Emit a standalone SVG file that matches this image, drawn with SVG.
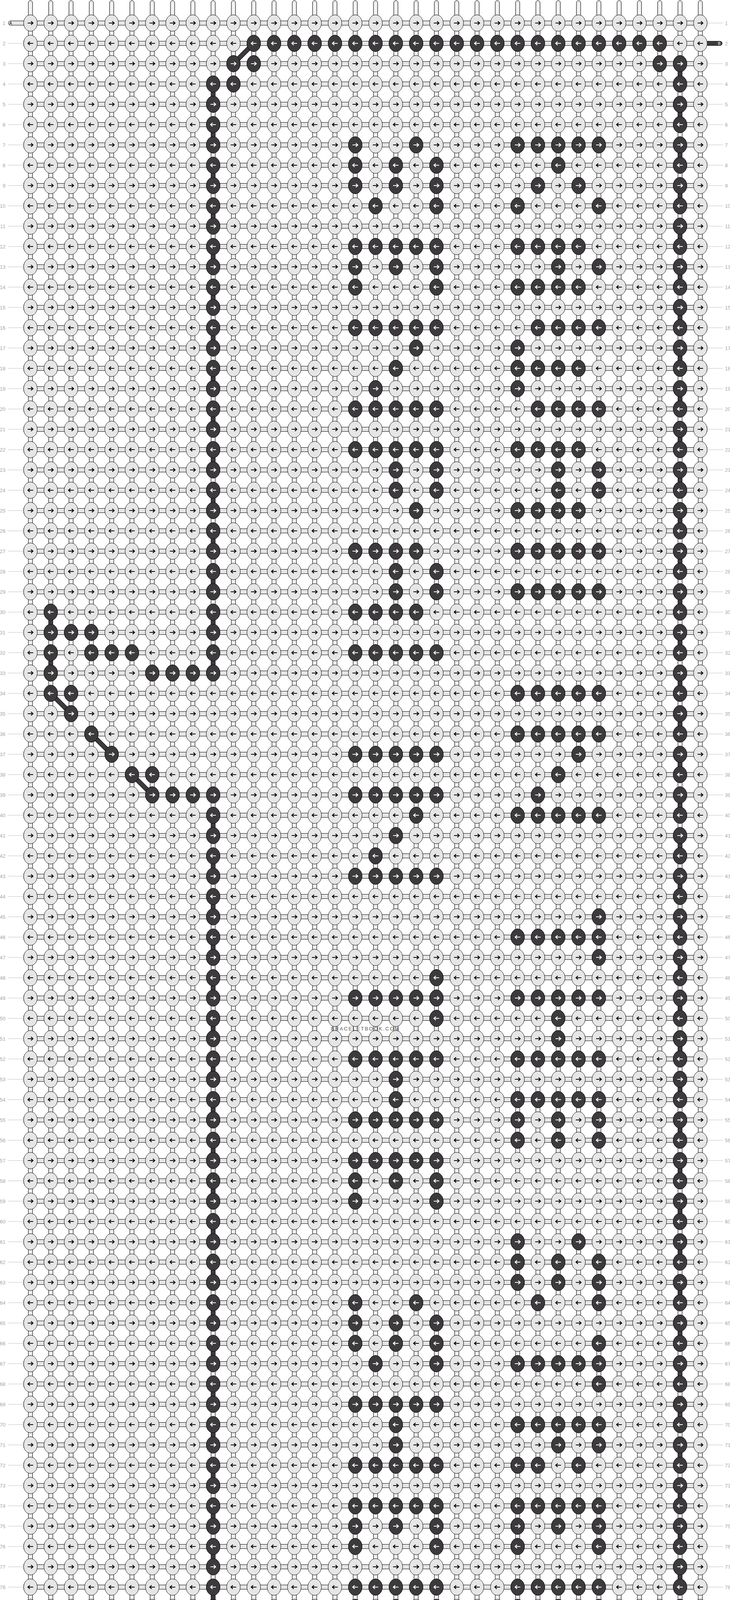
<svg xmlns="http://www.w3.org/2000/svg" width="1870" height="5213" viewBox="0 0 1870 5213">
<style>
.kl{fill:#e6e6e6;stroke:#000;stroke-width:1}
.kd{fill:#3d3a3d;stroke:#000;stroke-width:1}
.hb{fill:#e6e6e6;stroke:#000;stroke-width:1}
.vc{fill:#e6e6e6;stroke:#000;stroke-width:1}
.vs{fill:#fbfbfb}
.ab{fill:none;stroke:#000;stroke-width:2.2}
.aw{fill:none;stroke:#fff;stroke-width:2.2}
.vdr{fill:#3d3a3d;stroke:#000;stroke-width:1}
.dgo{stroke:#000;stroke-width:12}
.dgi{stroke:#3d3a3d;stroke-width:10}
.leadL{fill:#e6e6e6;stroke:#000;stroke-width:1}
.leadD{fill:#3d3a3d;stroke:#000;stroke-width:1}
.num{font-family:"Liberation Sans",Arial,sans-serif;font-size:13px;fill:#a6a6a6}
.tag{font-family:"Liberation Sans",Arial,sans-serif;font-size:10px}
.wm{font-family:"Liberation Sans",Arial,sans-serif;font-size:13px;fill:#5a5a5a;letter-spacing:2.6px}
</style>
<defs>
<pattern id="grid" patternUnits="userSpaceOnUse" x="52" y="33" width="52" height="104">
<rect class="vc" x="20.5" y="-11" width="11" height="20"/>
<rect class="vc" x="20.5" y="43" width="11" height="18"/>
<rect class="vc" x="20.5" y="95" width="11" height="20"/>
<rect class="vs" x="24.5" y="-11" width="3" height="20"/>
<rect class="vs" x="24.5" y="43" width="3" height="18"/>
<rect class="vs" x="24.5" y="95" width="3" height="20"/>
<rect class="hb" x="35" y="20.5" width="40" height="11"/>
<rect class="hb" x="-23" y="20.5" width="40" height="11"/>
<rect class="hb" x="35" y="72.5" width="40" height="11"/>
<rect class="hb" x="-23" y="72.5" width="40" height="11"/>
<ellipse class="kl" cx="26" cy="26" rx="17.5" ry="21"/>
<ellipse class="kl" cx="26" cy="78" rx="17.5" ry="21"/>
<path class="ab" d="M19 26H32.5M27.5 21.5L32.5 26L27.5 30.5"/>
<path class="ab" d="M33 78H19.5M24.5 73.5L19.5 78L24.5 82.5"/>
</pattern>
<pattern id="lead" patternUnits="userSpaceOnUse" x="0" y="33" width="1870" height="52">
<rect x="0" y="25.5" width="1870" height="1" fill="#c0c0c0"/>
</pattern>
<g id="th"><rect class="vc" x="-5.5" y="0" width="11" height="44" rx="5.5"/><rect class="vs" x="-1.5" y="6" width="3" height="34"/></g>
<g id="dR"><ellipse class="kd" rx="17.5" ry="21"/><path class="aw" d="M-7 0H6.5M1.5-4.5L6.5 0L1.5 4.5"/></g>
<g id="dL"><ellipse class="kd" rx="17.5" ry="21"/><path class="aw" d="M7 0H-6.5M-1.5-4.5L-6.5 0L-1.5 4.5"/></g>
<g id="dR4"><use href="#dR"/><use href="#dR" x="52"/><use href="#dR" x="104"/><use href="#dR" x="156"/></g>
<g id="dL4"><use href="#dL"/><use href="#dL" x="52"/><use href="#dL" x="104"/><use href="#dL" x="156"/></g>
<g id="dR5"><use href="#dR4"/><use href="#dR" x="208"/></g>
<g id="dL5"><use href="#dL4"/><use href="#dL" x="208"/></g>
<g id="dL21"><use href="#dL5"/><use href="#dL5" x="260"/><use href="#dL5" x="520"/><use href="#dL5" x="780"/><use href="#dL" x="1040"/></g>
<rect id="vd" class="vdr" x="-5.5" y="15" width="11" height="22"/>
</defs>
<rect width="1870" height="5213" fill="#fff"/>

<g id="threads-top" transform="translate(0,1.5)">
<use href="#th" x="78"/><use href="#th" x="130"/><use href="#th" x="182"/><use href="#th" x="234"/><use href="#th" x="286"/><use href="#th" x="338"/><use href="#th" x="390"/><use href="#th" x="442"/><use href="#th" x="494"/><use href="#th" x="546"/><use href="#th" x="598"/><use href="#th" x="650"/><use href="#th" x="702"/><use href="#th" x="754"/><use href="#th" x="806"/><use href="#th" x="858"/><use href="#th" x="910"/><use href="#th" x="962"/><use href="#th" x="1014"/><use href="#th" x="1066"/><use href="#th" x="1118"/><use href="#th" x="1170"/><use href="#th" x="1222"/><use href="#th" x="1274"/><use href="#th" x="1326"/><use href="#th" x="1378"/><use href="#th" x="1430"/><use href="#th" x="1482"/><use href="#th" x="1534"/><use href="#th" x="1586"/><use href="#th" x="1638"/><use href="#th" x="1690"/><use href="#th" x="1742"/><use href="#th" x="1794"/>
</g>
<g id="threads-bottom" transform="translate(0,5167.5)">
<use href="#th" x="78"/><use href="#th" x="130"/><use href="#th" x="182"/><use href="#th" x="234"/><use href="#th" x="286"/><use href="#th" x="338"/><use href="#th" x="390"/><use href="#th" x="442"/><use href="#th" x="494"/><use href="#th" x="546"/><use href="#th" x="598"/><use href="#th" x="650"/><use href="#th" x="702"/><use href="#th" x="754"/><use href="#th" x="806"/><use href="#th" x="858"/><use href="#th" x="910"/><use href="#th" x="962"/><use href="#th" x="1014"/><use href="#th" x="1066"/><use href="#th" x="1118"/><use href="#th" x="1170"/><use href="#th" x="1222"/><use href="#th" x="1274"/><use href="#th" x="1326"/><use href="#th" x="1378"/><use href="#th" x="1430"/><use href="#th" x="1482"/><use href="#th" x="1534"/><use href="#th" x="1586"/><use href="#th" x="1638"/><use href="#th" x="1690"/><use href="#th" x="1742"/><use href="#th" x="1794"/>
</g>

<g id="leaders">
<rect x="20" y="85" width="40" height="4992" fill="url(#lead)"/>
<rect x="20" y="5154.5" width="40" height="1" fill="#c0c0c0"/>
<rect x="1812" y="137" width="40" height="4992" fill="url(#lead)"/>
<rect x="1812" y="58.5" width="40" height="1" fill="#c0c0c0"/>
</g>

<g id="lead-ins">
<path class="leadL" d="M64 53.5H27A5.5 5.5 0 0 0 27 64.5H64Z"/>
<path class="leadD" d="M64 5097.5H27A5.5 5.5 0 0 0 27 5108.5H64Z"/>
<path class="leadD" d="M1808 105.5H1844.5A5.5 5.5 0 0 1 1844.5 116.5H1808Z"/>
<path class="leadL" d="M1808 5149.5H1844.5A5.5 5.5 0 0 1 1844.5 5160.5H1808Z"/>
</g>

<g id="knot-grid">
<rect x="60" y="37" width="1752" height="5141" fill="url(#grid)"/>
</g>

<g id="connectors">
<use href="#vd" x="546" y="215"/><use href="#vd" x="546" y="319"/><use href="#vd" x="546" y="423"/><use href="#vd" x="546" y="527"/><use href="#vd" x="546" y="631"/><use href="#vd" x="546" y="735"/><use href="#vd" x="546" y="839"/><use href="#vd" x="546" y="943"/><use href="#vd" x="546" y="1047"/><use href="#vd" x="546" y="1151"/><use href="#vd" x="546" y="1255"/><use href="#vd" x="546" y="1359"/><use href="#vd" x="546" y="1463"/><use href="#vd" x="546" y="1567"/><use href="#vd" x="546" y="1671"/>
<use href="#vd" x="546" y="2087"/><use href="#vd" x="546" y="2191"/><use href="#vd" x="546" y="2295"/><use href="#vd" x="546" y="2399"/><use href="#vd" x="546" y="2503"/><use href="#vd" x="546" y="2607"/><use href="#vd" x="546" y="2711"/><use href="#vd" x="546" y="2815"/><use href="#vd" x="546" y="2919"/><use href="#vd" x="546" y="3023"/><use href="#vd" x="546" y="3127"/><use href="#vd" x="546" y="3231"/><use href="#vd" x="546" y="3335"/><use href="#vd" x="546" y="3439"/><use href="#vd" x="546" y="3543"/><use href="#vd" x="546" y="3647"/><use href="#vd" x="546" y="3751"/><use href="#vd" x="546" y="3855"/><use href="#vd" x="546" y="3959"/><use href="#vd" x="546" y="4063"/><use href="#vd" x="546" y="4167"/><use href="#vd" x="546" y="4271"/><use href="#vd" x="546" y="4375"/><use href="#vd" x="546" y="4479"/><use href="#vd" x="546" y="4583"/><use href="#vd" x="546" y="4687"/><use href="#vd" x="546" y="4791"/><use href="#vd" x="546" y="4895"/>
<use href="#vd" x="130" y="1567"/><use href="#vd" x="130" y="1671"/>
<use href="#vd" x="1742" y="163"/><use href="#vd" x="1742" y="267"/><use href="#vd" x="1742" y="371"/><use href="#vd" x="1742" y="475"/><use href="#vd" x="1742" y="579"/><use href="#vd" x="1742" y="683"/><use href="#vd" x="1742" y="787"/><use href="#vd" x="1742" y="891"/><use href="#vd" x="1742" y="995"/><use href="#vd" x="1742" y="1099"/><use href="#vd" x="1742" y="1203"/><use href="#vd" x="1742" y="1307"/><use href="#vd" x="1742" y="1411"/><use href="#vd" x="1742" y="1515"/><use href="#vd" x="1742" y="1619"/><use href="#vd" x="1742" y="1723"/><use href="#vd" x="1742" y="1827"/><use href="#vd" x="1742" y="1931"/><use href="#vd" x="1742" y="2035"/><use href="#vd" x="1742" y="2139"/><use href="#vd" x="1742" y="2243"/><use href="#vd" x="1742" y="2347"/><use href="#vd" x="1742" y="2451"/><use href="#vd" x="1742" y="2555"/><use href="#vd" x="1742" y="2659"/><use href="#vd" x="1742" y="2763"/><use href="#vd" x="1742" y="2867"/><use href="#vd" x="1742" y="2971"/><use href="#vd" x="1742" y="3075"/><use href="#vd" x="1742" y="3179"/><use href="#vd" x="1742" y="3283"/><use href="#vd" x="1742" y="3387"/><use href="#vd" x="1742" y="3491"/><use href="#vd" x="1742" y="3595"/><use href="#vd" x="1742" y="3699"/><use href="#vd" x="1742" y="3803"/><use href="#vd" x="1742" y="3907"/><use href="#vd" x="1742" y="4011"/><use href="#vd" x="1742" y="4115"/><use href="#vd" x="1742" y="4219"/><use href="#vd" x="1742" y="4323"/><use href="#vd" x="1742" y="4427"/><use href="#vd" x="1742" y="4531"/><use href="#vd" x="1742" y="4635"/><use href="#vd" x="1742" y="4739"/><use href="#vd" x="1742" y="4843"/><use href="#vd" x="1742" y="4947"/>
<g id="diagonals">
<line class="dgo" x1="650" y1="111" x2="598" y2="163"/><line class="dgi" x1="650" y1="111" x2="598" y2="163"/>
<line class="dgo" x1="546" y1="4999" x2="598" y2="5051"/><line class="dgi" x1="546" y1="4999" x2="598" y2="5051"/>
<line class="dgo" x1="1742" y1="5051" x2="1690" y2="5103"/><line class="dgi" x1="1742" y1="5051" x2="1690" y2="5103"/>
<line class="dgo" x1="130" y1="1775" x2="182" y2="1827"/><line class="dgi" x1="130" y1="1775" x2="182" y2="1827"/>
<line class="dgo" x1="234" y1="1879" x2="286" y2="1931"/><line class="dgi" x1="234" y1="1879" x2="286" y2="1931"/>
<line class="dgo" x1="338" y1="1983" x2="390" y2="2035"/><line class="dgi" x1="338" y1="1983" x2="390" y2="2035"/>
</g>
</g>

<g id="dark-knots">
<g id="row-2" transform="translate(0,111)"><use href="#dL21" x="650"/></g>
<g id="row-3" transform="translate(0,163)"><use href="#dR" x="598"/><use href="#dR" x="650"/><use href="#dR" x="1690"/><use href="#dR" x="1742"/></g>
<g id="row-4" transform="translate(0,215)"><use href="#dL" x="546"/><use href="#dL" x="598"/><use href="#dL" x="1742"/></g>
<g id="row-5" transform="translate(0,267)"><use href="#dR" x="546"/><use href="#dR" x="1742"/></g>
<g id="row-6" transform="translate(0,319)"><use href="#dL" x="546"/><use href="#dL" x="1742"/></g>
<g id="row-7" transform="translate(0,371)"><use href="#dR" x="546"/><use href="#dR" x="910"/><use href="#dR" x="1066"/><use href="#dR5" x="1326"/><use href="#dR" x="1742"/></g>
<g id="row-8" transform="translate(0,423)"><use href="#dL" x="546"/><use href="#dL" x="910"/><use href="#dL" x="1014"/><use href="#dL" x="1118"/><use href="#dL" x="1430"/><use href="#dL" x="1742"/></g>
<g id="row-9" transform="translate(0,475)"><use href="#dR" x="546"/><use href="#dR" x="910"/><use href="#dR" x="1014"/><use href="#dR" x="1118"/><use href="#dR" x="1378"/><use href="#dR" x="1482"/><use href="#dR" x="1742"/></g>
<g id="row-10" transform="translate(0,527)"><use href="#dL" x="546"/><use href="#dL" x="962"/><use href="#dL" x="1118"/><use href="#dL" x="1326"/><use href="#dL" x="1534"/><use href="#dL" x="1742"/></g>
<g id="row-11" transform="translate(0,579)"><use href="#dR" x="546"/><use href="#dR" x="1742"/></g>
<g id="row-12" transform="translate(0,631)"><use href="#dL" x="546"/><use href="#dL5" x="910"/><use href="#dL4" x="1326"/><use href="#dL" x="1742"/></g>
<g id="row-13" transform="translate(0,683)"><use href="#dR" x="546"/><use href="#dR" x="910"/><use href="#dR" x="1014"/><use href="#dR" x="1118"/><use href="#dR" x="1430"/><use href="#dR" x="1534"/><use href="#dR" x="1742"/></g>
<g id="row-14" transform="translate(0,735)"><use href="#dL" x="546"/><use href="#dL" x="910"/><use href="#dL" x="1118"/><use href="#dL4" x="1326"/><use href="#dL" x="1742"/></g>
<g id="row-15" transform="translate(0,787)"><use href="#dR" x="546"/><use href="#dR" x="1742"/></g>
<g id="row-16" transform="translate(0,839)"><use href="#dL" x="546"/><use href="#dL5" x="910"/><use href="#dL4" x="1378"/><use href="#dL" x="1742"/></g>
<g id="row-17" transform="translate(0,891)"><use href="#dR" x="546"/><use href="#dR" x="1066"/><use href="#dR" x="1326"/><use href="#dR" x="1742"/></g>
<g id="row-18" transform="translate(0,943)"><use href="#dL" x="546"/><use href="#dL" x="1014"/><use href="#dL4" x="1326"/><use href="#dL" x="1742"/></g>
<g id="row-19" transform="translate(0,995)"><use href="#dR" x="546"/><use href="#dR" x="962"/><use href="#dR" x="1326"/><use href="#dR" x="1742"/></g>
<g id="row-20" transform="translate(0,1047)"><use href="#dL" x="546"/><use href="#dL5" x="910"/><use href="#dL4" x="1378"/><use href="#dL" x="1742"/></g>
<g id="row-21" transform="translate(0,1099)"><use href="#dR" x="546"/><use href="#dR" x="1742"/></g>
<g id="row-22" transform="translate(0,1151)"><use href="#dL" x="546"/><use href="#dL5" x="910"/><use href="#dL4" x="1326"/><use href="#dL" x="1742"/></g>
<g id="row-23" transform="translate(0,1203)"><use href="#dR" x="546"/><use href="#dR" x="1014"/><use href="#dR" x="1118"/><use href="#dR" x="1430"/><use href="#dR" x="1534"/><use href="#dR" x="1742"/></g>
<g id="row-24" transform="translate(0,1255)"><use href="#dL" x="546"/><use href="#dL" x="1014"/><use href="#dL" x="1118"/><use href="#dL" x="1430"/><use href="#dL" x="1534"/><use href="#dL" x="1742"/></g>
<g id="row-25" transform="translate(0,1307)"><use href="#dR" x="546"/><use href="#dR" x="1066"/><use href="#dR4" x="1326"/><use href="#dR" x="1742"/></g>
<g id="row-26" transform="translate(0,1359)"><use href="#dL" x="546"/><use href="#dL" x="1742"/></g>
<g id="row-27" transform="translate(0,1411)"><use href="#dR" x="546"/><use href="#dR4" x="910"/><use href="#dR5" x="1326"/><use href="#dR" x="1742"/></g>
<g id="row-28" transform="translate(0,1463)"><use href="#dL" x="546"/><use href="#dL" x="1014"/><use href="#dL" x="1118"/><use href="#dL" x="1742"/></g>
<g id="row-29" transform="translate(0,1515)"><use href="#dR" x="546"/><use href="#dR" x="1014"/><use href="#dR" x="1118"/><use href="#dR5" x="1326"/><use href="#dR" x="1742"/></g>
<g id="row-30" transform="translate(0,1567)"><use href="#dL" x="130"/><use href="#dL" x="546"/><use href="#dL4" x="910"/><use href="#dL" x="1742"/></g>
<g id="row-31" transform="translate(0,1619)"><use href="#dR" x="130"/><use href="#dR" x="182"/><use href="#dR" x="234"/><use href="#dR" x="546"/><use href="#dR" x="1742"/></g>
<g id="row-32" transform="translate(0,1671)"><use href="#dL" x="130"/><use href="#dL" x="234"/><use href="#dL" x="286"/><use href="#dL" x="338"/><use href="#dL" x="546"/><use href="#dL5" x="910"/><use href="#dL" x="1742"/></g>
<g id="row-33" transform="translate(0,1723)"><use href="#dR" x="130"/><use href="#dR" x="390"/><use href="#dR" x="442"/><use href="#dR" x="494"/><use href="#dR" x="546"/><use href="#dR" x="1742"/></g>
<g id="row-34" transform="translate(0,1775)"><use href="#dL" x="130"/><use href="#dL" x="182"/><use href="#dL5" x="1326"/><use href="#dL" x="1742"/></g>
<g id="row-35" transform="translate(0,1827)"><use href="#dR" x="182"/><use href="#dR" x="1742"/></g>
<g id="row-36" transform="translate(0,1879)"><use href="#dL" x="234"/><use href="#dL5" x="1326"/><use href="#dL" x="1742"/></g>
<g id="row-37" transform="translate(0,1931)"><use href="#dR" x="286"/><use href="#dR5" x="910"/><use href="#dR" x="1482"/><use href="#dR" x="1742"/></g>
<g id="row-38" transform="translate(0,1983)"><use href="#dL" x="338"/><use href="#dL" x="390"/><use href="#dL" x="1430"/><use href="#dL" x="1742"/></g>
<g id="row-39" transform="translate(0,2035)"><use href="#dR" x="390"/><use href="#dR" x="442"/><use href="#dR" x="494"/><use href="#dR" x="546"/><use href="#dR5" x="910"/><use href="#dR" x="1378"/><use href="#dR" x="1742"/></g>
<g id="row-40" transform="translate(0,2087)"><use href="#dL" x="546"/><use href="#dL" x="1066"/><use href="#dL5" x="1326"/><use href="#dL" x="1742"/></g>
<g id="row-41" transform="translate(0,2139)"><use href="#dR" x="546"/><use href="#dR" x="1014"/><use href="#dR" x="1742"/></g>
<g id="row-42" transform="translate(0,2191)"><use href="#dL" x="546"/><use href="#dL" x="962"/><use href="#dL" x="1742"/></g>
<g id="row-43" transform="translate(0,2243)"><use href="#dR" x="546"/><use href="#dR5" x="910"/><use href="#dR" x="1742"/></g>
<g id="row-44" transform="translate(0,2295)"><use href="#dL" x="546"/><use href="#dL" x="1742"/></g>
<g id="row-45" transform="translate(0,2347)"><use href="#dR" x="546"/><use href="#dR" x="1534"/><use href="#dR" x="1742"/></g>
<g id="row-46" transform="translate(0,2399)"><use href="#dL" x="546"/><use href="#dL5" x="1326"/><use href="#dL" x="1742"/></g>
<g id="row-47" transform="translate(0,2451)"><use href="#dR" x="546"/><use href="#dR" x="1534"/><use href="#dR" x="1742"/></g>
<g id="row-48" transform="translate(0,2503)"><use href="#dL" x="546"/><use href="#dL" x="1118"/><use href="#dL" x="1742"/></g>
<g id="row-49" transform="translate(0,2555)"><use href="#dR" x="546"/><use href="#dR5" x="910"/><use href="#dR5" x="1326"/><use href="#dR" x="1742"/></g>
<g id="row-50" transform="translate(0,2607)"><use href="#dL" x="546"/><use href="#dL" x="1118"/><use href="#dL" x="1430"/><use href="#dL" x="1742"/></g>
<g id="row-51" transform="translate(0,2659)"><use href="#dR" x="546"/><use href="#dR" x="1430"/><use href="#dR" x="1742"/></g>
<g id="row-52" transform="translate(0,2711)"><use href="#dL" x="546"/><use href="#dL5" x="910"/><use href="#dL5" x="1326"/><use href="#dL" x="1742"/></g>
<g id="row-53" transform="translate(0,2763)"><use href="#dR" x="546"/><use href="#dR" x="1014"/><use href="#dR" x="1742"/></g>
<g id="row-54" transform="translate(0,2815)"><use href="#dL" x="546"/><use href="#dL" x="1014"/><use href="#dL5" x="1326"/><use href="#dL" x="1742"/></g>
<g id="row-55" transform="translate(0,2867)"><use href="#dR" x="546"/><use href="#dR5" x="910"/><use href="#dR" x="1326"/><use href="#dR" x="1430"/><use href="#dR" x="1534"/><use href="#dR" x="1742"/></g>
<g id="row-56" transform="translate(0,2919)"><use href="#dL" x="546"/><use href="#dL" x="1326"/><use href="#dL" x="1430"/><use href="#dL" x="1534"/><use href="#dL" x="1742"/></g>
<g id="row-57" transform="translate(0,2971)"><use href="#dR" x="546"/><use href="#dR5" x="910"/><use href="#dR" x="1742"/></g>
<g id="row-58" transform="translate(0,3023)"><use href="#dL" x="546"/><use href="#dL" x="910"/><use href="#dL" x="1014"/><use href="#dL" x="1118"/><use href="#dL" x="1742"/></g>
<g id="row-59" transform="translate(0,3075)"><use href="#dR" x="546"/><use href="#dR" x="910"/><use href="#dR" x="1118"/><use href="#dR" x="1742"/></g>
<g id="row-60" transform="translate(0,3127)"><use href="#dL" x="546"/><use href="#dL" x="1742"/></g>
<g id="row-61" transform="translate(0,3179)"><use href="#dR" x="546"/><use href="#dR" x="1326"/><use href="#dR" x="1482"/><use href="#dR" x="1742"/></g>
<g id="row-62" transform="translate(0,3231)"><use href="#dL" x="546"/><use href="#dL" x="1326"/><use href="#dL" x="1430"/><use href="#dL" x="1534"/><use href="#dL" x="1742"/></g>
<g id="row-63" transform="translate(0,3283)"><use href="#dR" x="546"/><use href="#dR" x="1326"/><use href="#dR" x="1430"/><use href="#dR" x="1534"/><use href="#dR" x="1742"/></g>
<g id="row-64" transform="translate(0,3335)"><use href="#dL" x="546"/><use href="#dL" x="910"/><use href="#dL" x="1066"/><use href="#dL" x="1378"/><use href="#dL" x="1534"/><use href="#dL" x="1742"/></g>
<g id="row-65" transform="translate(0,3387)"><use href="#dR" x="546"/><use href="#dR" x="910"/><use href="#dR" x="1014"/><use href="#dR" x="1118"/><use href="#dR" x="1742"/></g>
<g id="row-66" transform="translate(0,3439)"><use href="#dL" x="546"/><use href="#dL" x="910"/><use href="#dL" x="1014"/><use href="#dL" x="1118"/><use href="#dL" x="1534"/><use href="#dL" x="1742"/></g>
<g id="row-67" transform="translate(0,3491)"><use href="#dR" x="546"/><use href="#dR" x="962"/><use href="#dR" x="1118"/><use href="#dR5" x="1326"/><use href="#dR" x="1742"/></g>
<g id="row-68" transform="translate(0,3543)"><use href="#dL" x="546"/><use href="#dL" x="1534"/><use href="#dL" x="1742"/></g>
<g id="row-69" transform="translate(0,3595)"><use href="#dR" x="546"/><use href="#dR5" x="910"/><use href="#dR" x="1742"/></g>
<g id="row-70" transform="translate(0,3647)"><use href="#dL" x="546"/><use href="#dL" x="1014"/><use href="#dL5" x="1326"/><use href="#dL" x="1742"/></g>
<g id="row-71" transform="translate(0,3699)"><use href="#dR" x="546"/><use href="#dR" x="1014"/><use href="#dR" x="1430"/><use href="#dR" x="1534"/><use href="#dR" x="1742"/></g>
<g id="row-72" transform="translate(0,3751)"><use href="#dL" x="546"/><use href="#dL5" x="910"/><use href="#dL" x="1326"/><use href="#dL" x="1378"/><use href="#dL" x="1482"/><use href="#dL" x="1742"/></g>
<g id="row-73" transform="translate(0,3803)"><use href="#dR" x="546"/><use href="#dR" x="1742"/></g>
<g id="row-74" transform="translate(0,3855)"><use href="#dL" x="546"/><use href="#dL5" x="910"/><use href="#dL5" x="1326"/><use href="#dL" x="1742"/></g>
<g id="row-75" transform="translate(0,3907)"><use href="#dR" x="546"/><use href="#dR" x="910"/><use href="#dR" x="1014"/><use href="#dR" x="1118"/><use href="#dR" x="1326"/><use href="#dR" x="1430"/><use href="#dR" x="1534"/><use href="#dR" x="1742"/></g>
<g id="row-76" transform="translate(0,3959)"><use href="#dL" x="546"/><use href="#dL" x="910"/><use href="#dL" x="1118"/><use href="#dL" x="1326"/><use href="#dL" x="1534"/><use href="#dL" x="1742"/></g>
<g id="row-77" transform="translate(0,4011)"><use href="#dR" x="546"/><use href="#dR" x="1742"/></g>
<g id="row-78" transform="translate(0,4063)"><use href="#dL" x="546"/><use href="#dL5" x="910"/><use href="#dL5" x="1326"/><use href="#dL" x="1742"/></g>
<g id="row-79" transform="translate(0,4115)"><use href="#dR" x="546"/><use href="#dR" x="910"/><use href="#dR" x="1014"/><use href="#dR" x="1118"/><use href="#dR" x="1326"/><use href="#dR" x="1430"/><use href="#dR" x="1534"/><use href="#dR" x="1742"/></g>
<g id="row-80" transform="translate(0,4167)"><use href="#dL" x="546"/><use href="#dL" x="910"/><use href="#dL" x="1118"/><use href="#dL" x="1326"/><use href="#dL" x="1534"/><use href="#dL" x="1742"/></g>
<g id="row-81" transform="translate(0,4219)"><use href="#dR" x="546"/><use href="#dR" x="1742"/></g>
<g id="row-82" transform="translate(0,4271)"><use href="#dL" x="546"/><use href="#dL" x="1118"/><use href="#dL" x="1534"/><use href="#dL" x="1742"/></g>
<g id="row-83" transform="translate(0,4323)"><use href="#dR" x="546"/><use href="#dR5" x="910"/><use href="#dR5" x="1326"/><use href="#dR" x="1742"/></g>
<g id="row-84" transform="translate(0,4375)"><use href="#dL" x="546"/><use href="#dL" x="1118"/><use href="#dL" x="1534"/><use href="#dL" x="1742"/></g>
<g id="row-85" transform="translate(0,4427)"><use href="#dR" x="546"/><use href="#dR" x="1742"/></g>
<g id="row-86" transform="translate(0,4479)"><use href="#dL" x="546"/><use href="#dL" x="910"/><use href="#dL" x="1066"/><use href="#dL" x="1326"/><use href="#dL" x="1482"/><use href="#dL" x="1742"/></g>
<g id="row-87" transform="translate(0,4531)"><use href="#dR" x="546"/><use href="#dR" x="910"/><use href="#dR" x="1014"/><use href="#dR" x="1118"/><use href="#dR" x="1326"/><use href="#dR" x="1430"/><use href="#dR" x="1534"/><use href="#dR" x="1742"/></g>
<g id="row-88" transform="translate(0,4583)"><use href="#dL" x="546"/><use href="#dL" x="910"/><use href="#dL" x="1014"/><use href="#dL" x="1118"/><use href="#dL" x="1326"/><use href="#dL" x="1430"/><use href="#dL" x="1534"/><use href="#dL" x="1742"/></g>
<g id="row-89" transform="translate(0,4635)"><use href="#dR" x="546"/><use href="#dR" x="962"/><use href="#dR" x="1118"/><use href="#dR" x="1378"/><use href="#dR" x="1534"/><use href="#dR" x="1742"/></g>
<g id="row-90" transform="translate(0,4687)"><use href="#dL" x="546"/><use href="#dL" x="1274"/><use href="#dL" x="1742"/></g>
<g id="row-91" transform="translate(0,4739)"><use href="#dR" x="546"/><use href="#dR" x="910"/><use href="#dR" x="1326"/><use href="#dR" x="1378"/><use href="#dR" x="1742"/></g>
<g id="row-92" transform="translate(0,4791)"><use href="#dL" x="546"/><use href="#dL" x="1742"/></g>
<g id="row-93" transform="translate(0,4843)"><use href="#dR" x="546"/><use href="#dR" x="1742"/></g>
<g id="row-94" transform="translate(0,4895)"><use href="#dL" x="546"/><use href="#dL" x="1742"/></g>
<g id="row-95" transform="translate(0,4947)"><use href="#dR" x="546"/><use href="#dR" x="1742"/></g>
<g id="row-96" transform="translate(0,4999)"><use href="#dL" x="546"/><use href="#dL" x="598"/><use href="#dL" x="1742"/></g>
<g id="row-97" transform="translate(0,5051)"><use href="#dR" x="598"/><use href="#dR" x="650"/><use href="#dR" x="1690"/><use href="#dR" x="1742"/></g>
<g id="row-98" transform="translate(0,5103)"><use href="#dL21" x="650"/></g>
</g>

<g id="tags" class="tag">
<text x="24" y="62.8" fill="#000">A</text>
<text x="24" y="5106.8" fill="#fff">B</text>
<text x="1839" y="114.8" fill="#fff">B</text>
<text x="1839" y="5158.8" fill="#000">A</text>
</g>

<g id="row-numbers-left" class="num" text-anchor="end">
<text x="14" y="63.5">1</text><text x="14" y="115.5">2</text><text x="14" y="167.5">3</text><text x="14" y="219.5">4</text><text x="14" y="271.5">5</text><text x="14" y="323.5">6</text><text x="14" y="375.5">7</text><text x="14" y="427.5">8</text><text x="14" y="479.5">9</text><text x="14" y="531.5">10</text>
<text x="14" y="583.5">11</text><text x="14" y="635.5">12</text><text x="14" y="687.5">13</text><text x="14" y="739.5">14</text><text x="14" y="791.5">15</text><text x="14" y="843.5">16</text><text x="14" y="895.5">17</text><text x="14" y="947.5">18</text><text x="14" y="999.5">19</text><text x="14" y="1051.5">20</text>
<text x="14" y="1103.5">21</text><text x="14" y="1155.5">22</text><text x="14" y="1207.5">23</text><text x="14" y="1259.5">24</text><text x="14" y="1311.5">25</text><text x="14" y="1363.5">26</text><text x="14" y="1415.5">27</text><text x="14" y="1467.5">28</text><text x="14" y="1519.5">29</text><text x="14" y="1571.5">30</text>
<text x="14" y="1623.5">31</text><text x="14" y="1675.5">32</text><text x="14" y="1727.5">33</text><text x="14" y="1779.5">34</text><text x="14" y="1831.5">35</text><text x="14" y="1883.5">36</text><text x="14" y="1935.5">37</text><text x="14" y="1987.5">38</text><text x="14" y="2039.5">39</text><text x="14" y="2091.5">40</text>
<text x="14" y="2143.5">41</text><text x="14" y="2195.5">42</text><text x="14" y="2247.5">43</text><text x="14" y="2299.5">44</text><text x="14" y="2351.5">45</text><text x="14" y="2403.5">46</text><text x="14" y="2455.5">47</text><text x="14" y="2507.5">48</text><text x="14" y="2559.5">49</text><text x="14" y="2611.5">50</text>
<text x="14" y="2663.5">51</text><text x="14" y="2715.5">52</text><text x="14" y="2767.5">53</text><text x="14" y="2819.5">54</text><text x="14" y="2871.5">55</text><text x="14" y="2923.5">56</text><text x="14" y="2975.5">57</text><text x="14" y="3027.5">58</text><text x="14" y="3079.5">59</text><text x="14" y="3131.5">60</text>
<text x="14" y="3183.5">61</text><text x="14" y="3235.5">62</text><text x="14" y="3287.5">63</text><text x="14" y="3339.5">64</text><text x="14" y="3391.5">65</text><text x="14" y="3443.5">66</text><text x="14" y="3495.5">67</text><text x="14" y="3547.5">68</text><text x="14" y="3599.5">69</text><text x="14" y="3651.5">70</text>
<text x="14" y="3703.5">71</text><text x="14" y="3755.5">72</text><text x="14" y="3807.5">73</text><text x="14" y="3859.5">74</text><text x="14" y="3911.5">75</text><text x="14" y="3963.5">76</text><text x="14" y="4015.5">77</text><text x="14" y="4067.5">78</text><text x="14" y="4119.5">79</text><text x="14" y="4171.5">80</text>
<text x="14" y="4223.5">81</text><text x="14" y="4275.5">82</text><text x="14" y="4327.5">83</text><text x="14" y="4379.5">84</text><text x="14" y="4431.5">85</text><text x="14" y="4483.5">86</text><text x="14" y="4535.5">87</text><text x="14" y="4587.5">88</text><text x="14" y="4639.5">89</text><text x="14" y="4691.5">90</text>
<text x="14" y="4743.5">91</text><text x="14" y="4795.5">92</text><text x="14" y="4847.5">93</text><text x="14" y="4899.5">94</text><text x="14" y="4951.5">95</text><text x="14" y="5003.5">96</text><text x="14" y="5055.5">97</text><text x="14" y="5107.5">98</text><text x="14" y="5159.5">99</text>
</g>

<g id="row-numbers-right" class="num">
<text x="1857" y="63.5">1</text><text x="1857" y="115.5">2</text><text x="1857" y="167.5">3</text><text x="1857" y="219.5">4</text><text x="1857" y="271.5">5</text><text x="1857" y="323.5">6</text><text x="1857" y="375.5">7</text><text x="1857" y="427.5">8</text><text x="1857" y="479.5">9</text><text x="1857" y="531.5">10</text>
<text x="1857" y="583.5">11</text><text x="1857" y="635.5">12</text><text x="1857" y="687.5">13</text><text x="1857" y="739.5">14</text><text x="1857" y="791.5">15</text><text x="1857" y="843.5">16</text><text x="1857" y="895.5">17</text><text x="1857" y="947.5">18</text><text x="1857" y="999.5">19</text><text x="1857" y="1051.5">20</text>
<text x="1857" y="1103.5">21</text><text x="1857" y="1155.5">22</text><text x="1857" y="1207.5">23</text><text x="1857" y="1259.5">24</text><text x="1857" y="1311.5">25</text><text x="1857" y="1363.5">26</text><text x="1857" y="1415.5">27</text><text x="1857" y="1467.5">28</text><text x="1857" y="1519.5">29</text><text x="1857" y="1571.5">30</text>
<text x="1857" y="1623.5">31</text><text x="1857" y="1675.5">32</text><text x="1857" y="1727.5">33</text><text x="1857" y="1779.5">34</text><text x="1857" y="1831.5">35</text><text x="1857" y="1883.5">36</text><text x="1857" y="1935.5">37</text><text x="1857" y="1987.5">38</text><text x="1857" y="2039.5">39</text><text x="1857" y="2091.5">40</text>
<text x="1857" y="2143.5">41</text><text x="1857" y="2195.5">42</text><text x="1857" y="2247.5">43</text><text x="1857" y="2299.5">44</text><text x="1857" y="2351.5">45</text><text x="1857" y="2403.5">46</text><text x="1857" y="2455.5">47</text><text x="1857" y="2507.5">48</text><text x="1857" y="2559.5">49</text><text x="1857" y="2611.5">50</text>
<text x="1857" y="2663.5">51</text><text x="1857" y="2715.5">52</text><text x="1857" y="2767.5">53</text><text x="1857" y="2819.5">54</text><text x="1857" y="2871.5">55</text><text x="1857" y="2923.5">56</text><text x="1857" y="2975.5">57</text><text x="1857" y="3027.5">58</text><text x="1857" y="3079.5">59</text><text x="1857" y="3131.5">60</text>
<text x="1857" y="3183.5">61</text><text x="1857" y="3235.5">62</text><text x="1857" y="3287.5">63</text><text x="1857" y="3339.5">64</text><text x="1857" y="3391.5">65</text><text x="1857" y="3443.5">66</text><text x="1857" y="3495.5">67</text><text x="1857" y="3547.5">68</text><text x="1857" y="3599.5">69</text><text x="1857" y="3651.5">70</text>
<text x="1857" y="3703.5">71</text><text x="1857" y="3755.5">72</text><text x="1857" y="3807.5">73</text><text x="1857" y="3859.5">74</text><text x="1857" y="3911.5">75</text><text x="1857" y="3963.5">76</text><text x="1857" y="4015.5">77</text><text x="1857" y="4067.5">78</text><text x="1857" y="4119.5">79</text><text x="1857" y="4171.5">80</text>
<text x="1857" y="4223.5">81</text><text x="1857" y="4275.5">82</text><text x="1857" y="4327.5">83</text><text x="1857" y="4379.5">84</text><text x="1857" y="4431.5">85</text><text x="1857" y="4483.5">86</text><text x="1857" y="4535.5">87</text><text x="1857" y="4587.5">88</text><text x="1857" y="4639.5">89</text><text x="1857" y="4691.5">90</text>
<text x="1857" y="4743.5">91</text><text x="1857" y="4795.5">92</text><text x="1857" y="4847.5">93</text><text x="1857" y="4899.5">94</text><text x="1857" y="4951.5">95</text><text x="1857" y="5003.5">96</text><text x="1857" y="5055.5">97</text><text x="1857" y="5107.5">98</text><text x="1857" y="5159.5">99</text>
</g>

<text id="watermark" class="wm" x="936" y="2637.5" text-anchor="middle" textLength="177" lengthAdjust="spacing">BRACELETBOOK.COM</text>
</svg>
